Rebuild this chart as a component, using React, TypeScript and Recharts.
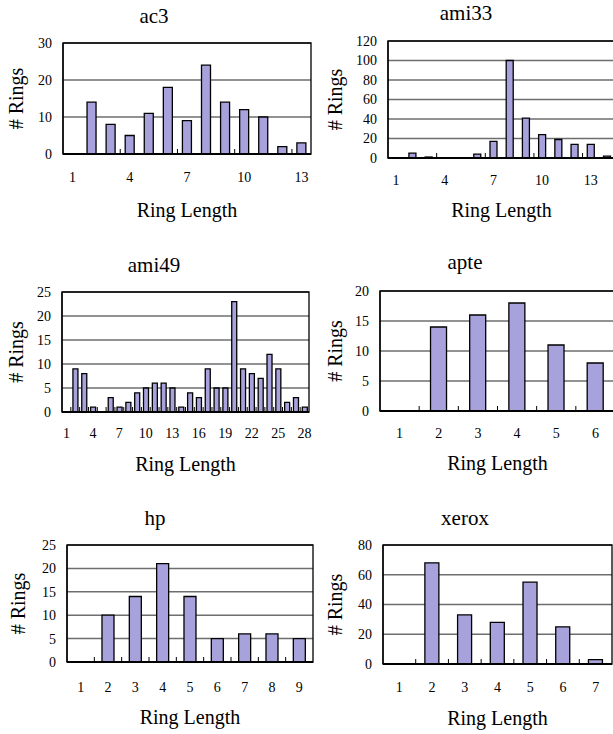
import React from 'react';
import { BarChart, Bar, XAxis, YAxis, CartesianGrid, ReferenceArea } from 'recharts';

const FONT = '"Times New Roman", "Liberation Serif", Times, serif';
const BAR_FILL = '#a8a2dc';

// ---- data ----
const ac3Cats = [1, 2, 3, 4, 5, 6, 7, 8, 9, 10, 11, 12, 13];
const ac3Vals = [0, 14, 8, 5, 11, 18, 9, 24, 14, 12, 10, 2, 3];
const ac3YTicks = [0, 10, 20, 30];

const ami33Cats = [1, 2, 3, 4, 5, 6, 7, 8, 9, 10, 11, 12, 13, 14];
const ami33Vals = [0, 5, 1, 0, 0, 4, 17, 100, 41, 24, 19, 14, 14, 2];
const ami33YTicks = [0, 20, 40, 60, 80, 100, 120];

const ami49Cats = [1, 2, 3, 4, 5, 6, 7, 8, 9, 10, 11, 12, 13, 14, 15, 16, 17, 18, 19, 20, 21, 22, 23, 24, 25, 26, 27, 28];
const ami49Vals = [0, 9, 8, 1, 0, 3, 1, 2, 4, 5, 6, 6, 5, 1, 4, 3, 9, 5, 5, 23, 9, 8, 7, 12, 9, 2, 3, 1];
const ami49YTicks = [0, 5, 10, 15, 20, 25];

const apteCats = [1, 2, 3, 4, 5, 6];
const apteVals = [0, 14, 16, 18, 11, 8];
const apteYTicks = [0, 5, 10, 15, 20];

const hpCats = [1, 2, 3, 4, 5, 6, 7, 8, 9];
const hpVals = [0, 10, 14, 21, 14, 5, 6, 6, 5];
const hpYTicks = [0, 5, 10, 15, 20, 25];

const xeroxCats = [1, 2, 3, 4, 5, 6, 7];
const xeroxVals = [0, 68, 33, 28, 55, 25, 3];
const xeroxYTicks = [0, 20, 40, 60, 80];

const X_LABEL = 'Ring Length';
const Y_LABEL = '# Rings';

type Rect = { l: number; t: number; r: number; b: number };
type PanelDef = {
  title: string;
  cats: number[];
  vals: number[];
  yTicks: number[];
  plot: Rect;
  labelEvery: number;
  markEvery: number;
  tickDist: number;
  gap: string;
  titleX: number;
  titleY: number;
  xLabelY: number;
  yLabelX: number;
};

const panels: PanelDef[] = [
  { title: 'ac3', cats: ac3Cats, vals: ac3Vals, yTicks: ac3YTicks, plot: { l: 63, t: 43, r: 311, b: 154 }, labelEvery: 3, markEvery: 3, tickDist: 23, gap: '26%', titleX: 154, titleY: 23, xLabelY: 217, yLabelX: 23 },
  { title: 'ami33', cats: ami33Cats, vals: ami33Vals, yTicks: ami33YTicks, plot: { l: 388, t: 41, r: 615, b: 158 }, labelEvery: 3, markEvery: 3, tickDist: 22, gap: '29%', titleX: 466, titleY: 20, xLabelY: 217, yLabelX: 342 },
  { title: 'ami49', cats: ami49Cats, vals: ami49Vals, yTicks: ami49YTicks, plot: { l: 62, t: 292, r: 309, b: 412 }, labelEvery: 3, markEvery: 1, tickDist: 21, gap: '24%', titleX: 154, titleY: 272, xLabelY: 471, yLabelX: 23 },
  { title: 'apte', cats: apteCats, vals: apteVals, yTicks: apteYTicks, plot: { l: 380, t: 291, r: 615, b: 411 }, labelEvery: 1, markEvery: 1, tickDist: 22, gap: '29%', titleX: 465, titleY: 269, xLabelY: 470, yLabelX: 342 },
  { title: 'hp', cats: hpCats, vals: hpVals, yTicks: hpYTicks, plot: { l: 67, t: 545, r: 313, b: 662 }, labelEvery: 1, markEvery: 1, tickDist: 25, gap: '28%', titleX: 155, titleY: 525, xLabelY: 724, yLabelX: 25 },
  { title: 'xerox', cats: xeroxCats, vals: xeroxVals, yTicks: xeroxYTicks, plot: { l: 383, t: 545, r: 612, b: 664 }, labelEvery: 1, markEvery: 1, tickDist: 23, gap: '28%', titleX: 465, titleY: 525, xLabelY: 725, yLabelX: 342 },
];

const ML = 50;
const MT = 10;
const MR = 10;
const XH = 40;

function Panel({ p }: { p: PanelDef }) {
  const pw = p.plot.r - p.plot.l;
  const ph = p.plot.b - p.plot.t;
  const width = ML + pw + MR;
  const height = MT + ph + XH;
  const data = p.cats.map((c, i) => ({ x: String(c), v: p.vals[i] }));
  const band = pw / p.cats.length;
  const max = p.yTicks[p.yTicks.length - 1];

  const Tick = (props: any) => {
    const { x, y, payload, index } = props;
    const axisY = y - p.tickDist;
    const half = band / 2;
    return (
      <g>
        {index > 0 && index % p.markEvery === 0 && (
          <line x1={x - half} x2={x - half} y1={axisY} y2={axisY - 5} stroke="#000" strokeWidth={1} />
        )}
        {index % p.labelEvery === 0 && (
          <text x={x} y={y} dy="0.35em" textAnchor="middle" fontSize={14} fontFamily={FONT} fill="#000">
            {payload.value}
          </text>
        )}
      </g>
    );
  };

  return (
    <div style={{ position: 'absolute', left: p.plot.l - ML, top: p.plot.t - MT }}>
      <BarChart
        width={width}
        height={height}
        data={data}
        margin={{ top: MT, right: MR, left: 0, bottom: 0 }}
        barCategoryGap={p.gap}
      >
        <CartesianGrid vertical={false} stroke="#6e6e6e" strokeWidth={1.5} />
        <XAxis
          dataKey="x"
          type="category"
          interval={0}
          tickSize={0}
          tickMargin={p.tickDist}
          tickLine={false}
          axisLine={{ stroke: '#000', strokeWidth: 2 }}
          tick={Tick}
          height={XH}
        />
        <YAxis
          type="number"
          domain={[0, max]}
          ticks={p.yTicks}
          interval={0}
          width={ML}
          tickSize={0}
          tickMargin={11}
          tickLine={false}
          axisLine={{ stroke: '#000', strokeWidth: 1.3 }}
          tick={{ fontSize: 14, fontFamily: FONT, fill: '#000' }}
        />
        <Bar dataKey="v" fill={BAR_FILL} stroke="#000" strokeWidth={1.3} isAnimationActive={false} />
        <ReferenceArea y1={0} y2={max} fill="none" fillOpacity={0} stroke="#000" strokeWidth={1.3} ifOverflow="visible" />
      </BarChart>
    </div>
  );
}

export default function App() {
  return (
    <div style={{ position: 'absolute', left: 0, top: 0, width: 613, height: 734, overflow: 'hidden', background: '#fff' }}>
      {panels.map((p) => (
        <Panel key={p.title} p={p} />
      ))}
      <svg width={613} height={734} style={{ position: 'absolute', left: 0, top: 0, pointerEvents: 'none' }}>
        {panels.map((p) => {
          const cx = (p.plot.l + p.plot.r) / 2;
          const cy = (p.plot.t + p.plot.b) / 2;
          return (
            <g key={p.title} fontFamily={FONT} fill="#000">
              <text x={p.titleX} y={p.titleY} fontSize={21} textAnchor="middle">{p.title}</text>
              <text x={cx} y={p.xLabelY} fontSize={20} textAnchor="middle">{X_LABEL}</text>
              <text x={p.yLabelX} y={cy} fontSize={20} textAnchor="middle" transform={`rotate(-90 ${p.yLabelX} ${cy})`}>{Y_LABEL}</text>
            </g>
          );
        })}
      </svg>
    </div>
  );
}
